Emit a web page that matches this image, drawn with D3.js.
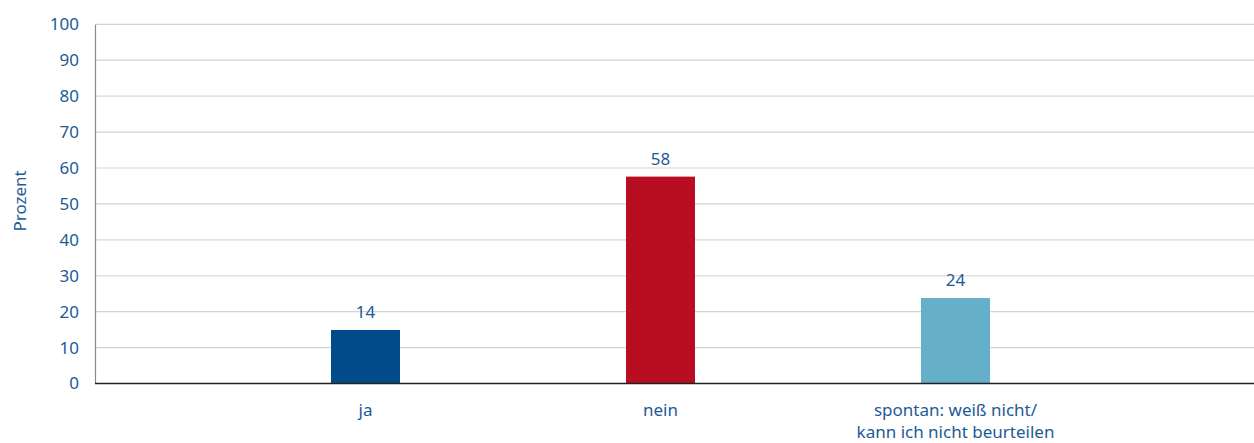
<!DOCTYPE html>
<html>
<head>
<meta charset="utf-8">
<script src="https://cdn.jsdelivr.net/npm/d3@7"></script>
<style>
  body { margin: 0; background: #fff; }
  text { font-family: "Noto Sans", "Open Sans", sans-serif; fill: #1d5a96; }
</style>
</head>
<body>
<div id="chart"></div>
<script>
const categories = ["ja", "nein", "spontan: weiß nicht/\nkann ich nicht beurteilen"];
const values = [14.9, 57.6, 23.8];
const valueLabels = ["14", "58", "24"];
const colors = ["#004b88", "#b90e22", "#65b0c8"];
const yTicks = [0, 10, 20, 30, 40, 50, 60, 70, 80, 90, 100];

const width = 1254, height = 443;
const plotLeft = 95, plotRight = 1254, plotTop = 24.3, plotBottom = 383.5;

const svg = d3.select("#chart")
    .append("svg")
    .attr("width", width)
    .attr("height", height);

const y = d3.scaleLinear().domain([0, 100]).range([plotBottom, plotTop]);
const x = d3.scalePoint().domain(categories).range([365.5, 955.5]);
const barWidth = 69;

// gridlines
svg.selectAll("line.grid")
    .data(yTicks.filter(d => d > 0))
    .enter()
        .append("line")
        .attr("x1", plotLeft)
        .attr("x2", plotRight)
        .attr("y1", d => y(d))
        .attr("y2", d => y(d))
        .attr("stroke", "#d4d4d4")
        .attr("stroke-width", 1.2);

// y axis
const yAxis = d3.axisLeft(y).tickValues(yTicks).tickSize(0).tickPadding(16);
const gy = svg.append("g")
    .attr("transform", `translate(${plotLeft},0)`)
    .call(yAxis);
gy.select(".domain").attr("stroke", "#8a8a8a").attr("stroke-width", 1.2);
gy.selectAll("text")
    .attr("font-size", 17)
    .attr("fill", "#1d5a96")
    .style("font-family", '"Noto Sans", sans-serif');

svg.append("text")
    .attr("transform", `translate(26,${(plotTop + plotBottom) / 2 - 3}) rotate(-90)`)
    .attr("text-anchor", "middle")
    .attr("font-size", 17)
    .text("Prozent");

// bars
svg.selectAll("rect.bar")
    .data(categories)
    .enter()
        .append("rect")
        .attr("x", d => x(d) - barWidth / 2)
        .attr("width", barWidth)
        .attr("y", (d, i) => y(values[i]))
        .attr("height", (d, i) => y(0) - y(values[i]))
        .attr("fill", (d, i) => colors[i]);

svg.selectAll("text.val")
    .data(categories)
    .enter()
        .append("text")
        .attr("x", d => x(d))
        .attr("y", (d, i) => y(values[i]) - 12)
        .attr("text-anchor", "middle")
        .attr("font-size", 17)
        .text((d, i) => valueLabels[i]);

// baseline
svg.append("line")
    .attr("x1", plotLeft)
    .attr("x2", plotRight)
    .attr("y1", y(0))
    .attr("y2", y(0))
    .attr("stroke", "#222")
    .attr("stroke-width", 1.5);

// category labels
const cat = svg.selectAll("text.cat")
    .data(categories)
    .enter()
        .append("text")
        .attr("text-anchor", "middle")
        .attr("font-size", 17)
        .attr("y", 416);
cat.selectAll("tspan")
    .data(d => d.split("\n").map(t => ({t, c: d})))
    .enter()
        .append("tspan")
        .attr("x", d => x(d.c))
        .attr("dy", (d, i) => i === 0 ? 0 : 22)
        .text(d => d.t);
</script>
</body>
</html>
